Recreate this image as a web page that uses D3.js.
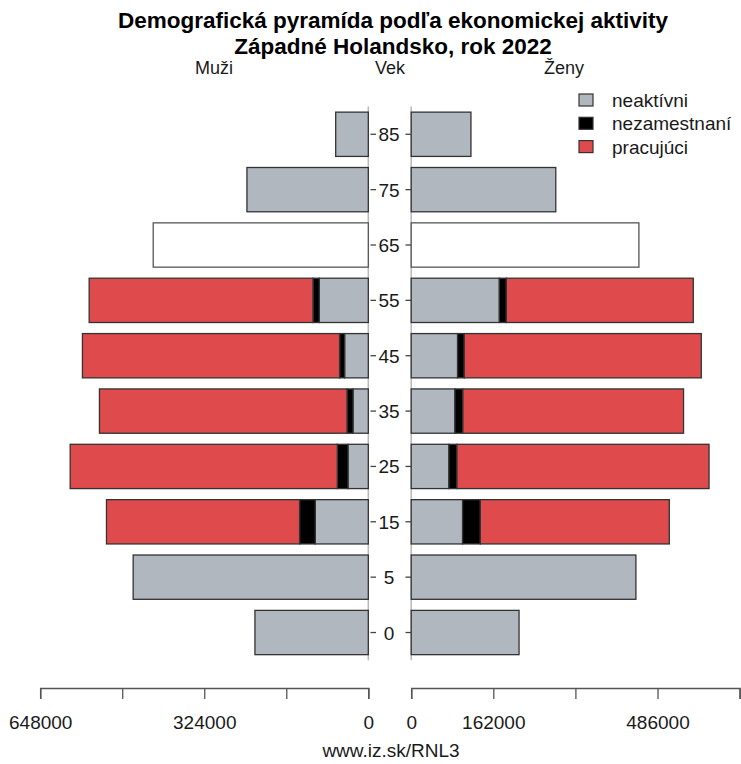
<!DOCTYPE html>
<html>
<head>
<meta charset="utf-8">
<script src="https://cdn.jsdelivr.net/npm/d3@7"></script>
<style>
  html, body { margin: 0; padding: 0; background: #fff; }
  text { font-family: "Liberation Sans", Arial, Helvetica, sans-serif; fill: #1a1a1a; }
</style>
</head>
<body>
<svg id="chart" width="741" height="764"></svg>
<script>
// ---- data ----
const ages = ["85", "75", "65", "55", "45", "35", "25", "15", "5", "0"];
const seriesNames = ["neaktívni", "nezamestnaní", "pracujúci"];
const seriesColors = ["#b1b7bf", "#000000", "#df4b4c"];

// men (left side)
const menInactive   = [64400, 239700, 0, 96800, 46800, 30200, 40100, 104700, 464400, 223900];
const menUnemployed = [0, 0, 0, 12500, 9900, 11900, 21100, 31000, 0, 0];
const menWorking    = [0, 0, 0, 442000, 507900, 488900, 527600, 381400, 0, 0];
const menNoBreakdown = [0, 0, 424800, 0, 0, 0, 0, 0, 0, 0];

// women (right side)
const womenInactive   = [117900, 285300, 0, 173900, 91500, 86300, 74500, 101400, 443400, 212800];
const womenUnemployed = [0, 0, 0, 13800, 13200, 15800, 15800, 35000, 0, 0];
const womenWorking    = [0, 0, 0, 368900, 467700, 435300, 497400, 372900, 0, 0];
const womenNoBreakdown = [0, 0, 449300, 0, 0, 0, 0, 0, 0, 0];

const axisTicks = [0, 162000, 324000, 486000, 648000];
const leftTickLabels = [0, 324000, 648000];
const rightTickLabels = [0, 162000, 486000];

const titleLines = ["Demografická pyramída podľa ekonomickej aktivity", "Západné Holandsko, rok 2022"];
const headMen = "Muži", headAge = "Vek", headWomen = "Ženy";
const sourceText = "www.iz.sk/RNL3";

// ---- layout ----
const svg = d3.select("#chart");
const xL = d3.scaleLinear().domain([0, 648000]).range([368.3, 40.2]);
const xR = d3.scaleLinear().domain([0, 648000]).range([411.2, 739.6]);
const y = d3.scaleBand().domain(ages).range([106.6, 660.2]).paddingInner(0.2).paddingOuter(0.1);

const FS = 19;

// title
svg.append("text").attr("x", 393).attr("y", 28).attr("text-anchor", "middle")
  .attr("font-size", 22.5).attr("font-weight", "bold").style("fill", "#000").text(titleLines[0]);
svg.append("text").attr("x", 393).attr("y", 54).attr("text-anchor", "middle")
  .attr("font-size", 22.5).attr("font-weight", "bold").style("fill", "#000").text(titleLines[1]);

// heads
svg.append("text").attr("x", 214).attr("y", 74).attr("text-anchor", "middle").attr("font-size", 18).text(headMen);
svg.append("text").attr("x", 390).attr("y", 74).attr("text-anchor", "middle").attr("font-size", 18).text(headAge);
svg.append("text").attr("x", 564).attr("y", 74).attr("text-anchor", "middle").attr("font-size", 18).text(headWomen);

// center guide lines
svg.append("line").attr("x1", xL(0)).attr("x2", xL(0)).attr("y1", y.range()[0]).attr("y2", y.range()[1])
  .attr("stroke", "#b8b8b8").attr("stroke-width", 1.5);
svg.append("line").attr("x1", xR(0)).attr("x2", xR(0)).attr("y1", y.range()[0]).attr("y2", y.range()[1])
  .attr("stroke", "#b8b8b8").attr("stroke-width", 1.5);

// build stacked segments
function segments(inact, unemp, work, noBreak) {
  const out = [];
  ages.forEach((a, i) => {
    if (noBreak[i] > 0) {
      out.push({age: a, x0: 0, x1: noBreak[i], fill: "#ffffff", stroke: "#555"});
      return;
    }
    const vals = [inact[i], unemp[i], work[i]];
    let acc = 0;
    vals.forEach((v, k) => {
      if (v > 0) {
        out.push({age: a, x0: acc, x1: acc + v, fill: seriesColors[k], stroke: "#333"});
        acc += v;
      }
    });
  });
  return out;
}

const menSegs = segments(menInactive, menUnemployed, menWorking, menNoBreakdown);
const womenSegs = segments(womenInactive, womenUnemployed, womenWorking, womenNoBreakdown);

svg.append("g").selectAll("rect").data(menSegs).join("rect")
  .attr("x", d => xL(d.x1)).attr("width", d => xL(d.x0) - xL(d.x1))
  .attr("y", d => y(d.age)).attr("height", y.bandwidth())
  .attr("fill", d => d.fill).attr("stroke", d => d.stroke).attr("stroke-width", 1.3);

svg.append("g").selectAll("rect").data(womenSegs).join("rect")
  .attr("x", d => xR(d.x0)).attr("width", d => xR(d.x1) - xR(d.x0))
  .attr("y", d => y(d.age)).attr("height", y.bandwidth())
  .attr("fill", d => d.fill).attr("stroke", d => d.stroke).attr("stroke-width", 1.3);

// age labels and small ticks
const ageG = svg.append("g");
ages.forEach(a => {
  const cy = y(a) + y.bandwidth() / 2;
  ageG.append("text").attr("x", 389).attr("y", cy + 7).attr("text-anchor", "middle").attr("font-size", FS).text(a);
  ageG.append("line").attr("x1", 370.5).attr("x2", 376).attr("y1", cy).attr("y2", cy).attr("stroke", "#444").attr("stroke-width", 1.3);
  ageG.append("line").attr("x1", 405.5).attr("x2", 411).attr("y1", cy).attr("y2", cy).attr("stroke", "#444").attr("stroke-width", 1.3);
});

// bottom axes
const axisY = 688;
const leftAxis = d3.axisBottom(xL).tickValues(axisTicks).tickSize(11)
  .tickFormat(d => leftTickLabels.includes(d) ? d3.format("d")(d) : "");
const rightAxis = d3.axisBottom(xR).tickValues(axisTicks).tickSize(11)
  .tickFormat(d => rightTickLabels.includes(d) ? d3.format("d")(d) : "");

function styleAxis(g) {
  g.select(".domain").attr("stroke", "#555").attr("stroke-width", 1.5);
  g.selectAll(".tick line").attr("stroke", "#555").attr("stroke-width", 1.3);
  g.selectAll(".tick text").attr("font-size", FS).attr("font-family", "Liberation Sans, Arial, sans-serif")
    .style("fill", "#1a1a1a").attr("dy", null).attr("y", 41);
}
svg.append("g").attr("transform", `translate(0,${axisY})`).call(leftAxis).call(styleAxis);
svg.append("g").attr("transform", `translate(0,${axisY})`).call(rightAxis).call(styleAxis);

// legend
const lg = svg.append("g");
seriesNames.forEach((n, i) => {
  const ly = 100 + i * 23.3;
  lg.append("rect").attr("x", 579).attr("y", ly - 6).attr("width", 14).attr("height", 12)
    .attr("fill", seriesColors[i]).attr("stroke", "#333").attr("stroke-width", 1.2);
  lg.append("text").attr("x", 612).attr("y", ly + 7).attr("font-size", FS).text(n);
});

// source
svg.append("text").attr("x", 391).attr("y", 757).attr("text-anchor", "middle").attr("font-size", FS).text(sourceText);
</script>
</body>
</html>
